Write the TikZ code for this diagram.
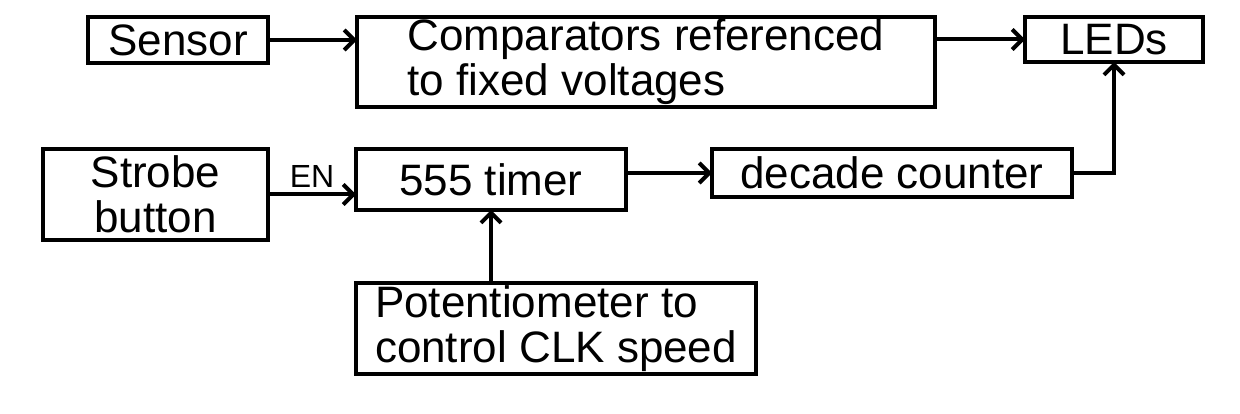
\documentclass[tikz,border=0pt]{standalone}
\usepackage{fontspec}
\setmainfont{Liberation Sans}
\usetikzlibrary{positioning,arrows.meta}

\begin{document}
\begin{tikzpicture}[x=1pt,y=-1pt,
  block/.style={draw, line width=4pt, outer sep=0pt, inner sep=2pt,
    font=\fontsize{44}{45}\selectfont},
  arr/.style={line width=4pt, -{Straight Barb[length=10pt,width=20pt]}}]

  \useasboundingbox (0,0) rectangle (1240,414);

  \node[block, minimum width=180pt, minimum height=46pt, anchor=north west] (sensor) at (88,17) {Sensor};
  \node[block, minimum width=578pt, minimum height=89pt, align=left] (comp) [right=89pt of sensor.north east, anchor=north west] {Comparators referenced\\to fixed voltages};
  \node[block, minimum width=178pt, minimum height=45pt] (leds) [right=90pt of comp.north east, anchor=north west] {LEDs};

  \node[block, minimum width=225pt, minimum height=91pt, align=center, anchor=north west] (strobe) at (43,149) {Strobe\\button};
  \node[block, minimum width=270pt, minimum height=61pt] (timer) [right=88pt of strobe.north east, anchor=north west] {555 timer};
  \node[block, minimum width=360pt, minimum height=48pt] (counter) [right=86pt of timer.north east, anchor=north west] {decade counter};
  \node[block, minimum width=400pt, minimum height=91pt, align=left] (pot) [below=73pt of timer.south west, anchor=north west] {Potentiometer to\\control CLK speed};

  % connections between the blocks
  \draw[arr] (sensor.east) -- (sensor.east -| comp.west);
  \draw[arr] (leds.west -| comp.east) -- (leds.west);
  \draw[arr] (strobe.east) -- (strobe.east -| timer.west)
    node[midway, above=2pt, font=\fontsize{32}{32}\selectfont] {EN};
  \draw[arr] (counter.west -| timer.east) -- (counter.west);
  \draw[arr] (counter.east) -| (leds.south);
  \draw[arr] (timer.south |- pot.north) -- (timer.south);

\end{tikzpicture}
\end{document}
